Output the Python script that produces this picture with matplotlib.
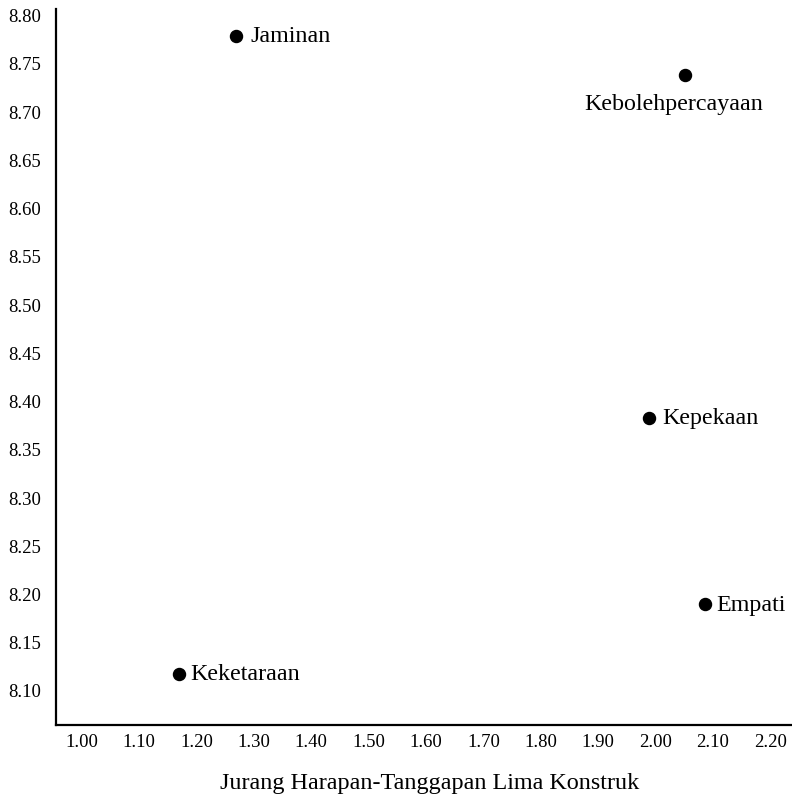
import matplotlib.pyplot as plt
import numpy as np

# Data
labels = ['Jaminan', 'Kebolehpercayaan', 'Kepekaan', 'Empati', 'Keketaraan']
gap = [1.269, 2.052, 1.989, 2.087, 1.169]
score = [8.778, 8.738, 8.382, 8.189, 8.117]
x_ticks = [1.00, 1.10, 1.20, 1.30, 1.40, 1.50, 1.60, 1.70, 1.80, 1.90, 2.00, 2.10, 2.20]
y_ticks = [8.10, 8.15, 8.20, 8.25, 8.30, 8.35, 8.40, 8.45, 8.50, 8.55, 8.60, 8.65, 8.70, 8.75, 8.80]

# label offsets (points) and alignment per point
offsets = {'Jaminan': ((10, 0), 'left', 'center'),
           'Kebolehpercayaan': ((-8, -13), 'center', 'top'),
           'Kepekaan': ((9.5, 0), 'left', 'center'),
           'Empati': ((8, 0), 'left', 'center'),
           'Keketaraan': ((8, 0), 'left', 'center')}

plt.rcParams['font.family'] = ['Liberation Serif', 'DejaVu Serif']

fig = plt.figure(figsize=(7.92, 8.04), dpi=100)
ax = fig.add_axes([0.0707, 0.097, 0.9293, 0.8906])

ax.scatter(gap, score, s=75, color='black', zorder=3)
for name, x, y in zip(labels, gap, score):
    off, ha, va = offsets[name]
    ax.annotate(name, (x, y), xytext=off, textcoords='offset points',
                ha=ha, va=va, fontsize=17.3)

ax.set_xlim(0.955, 2.238)
ax.set_ylim(8.0637, 8.806)
ax.set_xticks(x_ticks)
ax.set_xticklabels(['%.2f' % v for v in x_ticks])
ax.set_yticks(y_ticks)
ax.set_yticklabels(['%.2f' % v for v in y_ticks])
ax.tick_params(length=0, labelsize=13.5, pad=6)
ax.tick_params(axis='y', pad=11)

for side in ['top', 'right']:
    ax.spines[side].set_visible(False)
for side in ['left', 'bottom']:
    ax.spines[side].set_linewidth(1.6)

ax.set_xlabel('Jurang Harapan-Tanggapan Lima Konstruk', fontsize=17.4, labelpad=10)
ax.xaxis.set_label_coords(0.507, -0.065)

fig.savefig('out.png', dpi=100)
